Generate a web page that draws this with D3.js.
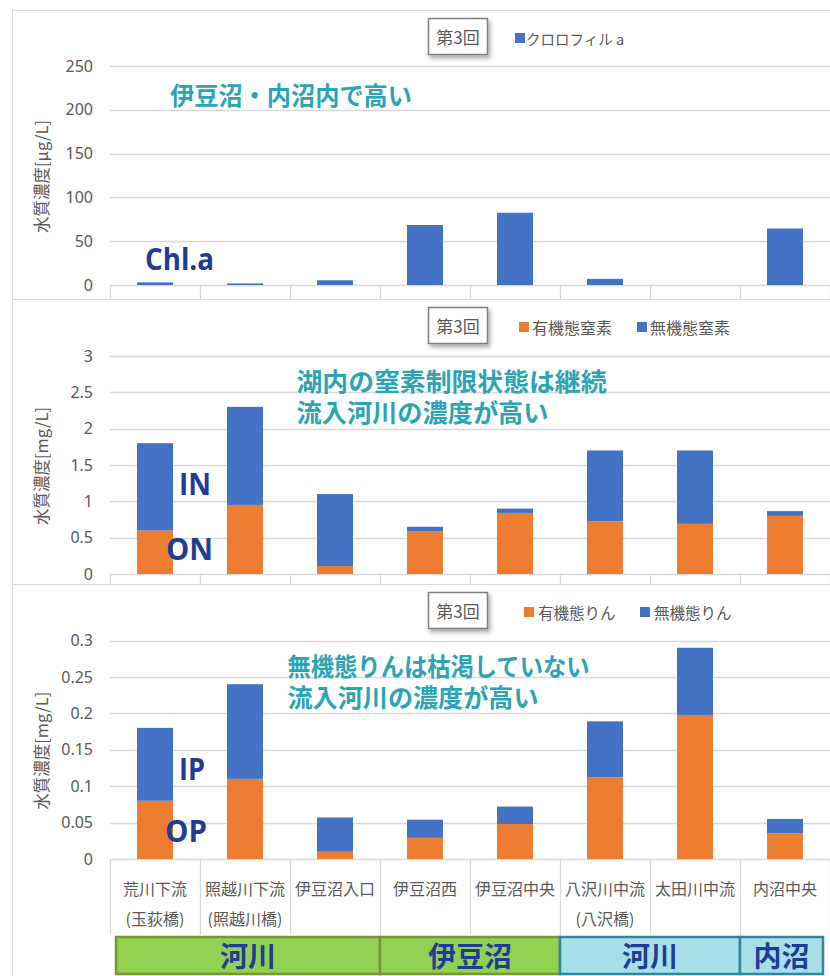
<!DOCTYPE html>
<html><head><meta charset="utf-8">
<script src="https://cdn.jsdelivr.net/npm/d3@7"></script>
<style>body{margin:0;background:#fff}svg{display:block}</style>
</head><body><svg id="c" width="830" height="976"></svg>
<script>
// ---------- data ----------
const catLine1 = ["荒川下流","照越川下流","伊豆沼入口","伊豆沼西","伊豆沼中央","八沢川中流","太田川中流","内沼中央"];
const catLine2 = ["(玉荻橋)","(照越川橋)","","","","(八沢橋)","",""];
const chla   = [3, 1.8, 5.4, 68.5, 82.5, 7, 0, 64.5];
const orgN   = [0.60, 0.95, 0.11, 0.59, 0.84, 0.725, 0.69, 0.80];
const inorgN = [1.20, 1.35, 0.99, 0.06, 0.06, 0.975, 1.01, 0.065];
const orgP   = [0.080, 0.110, 0.010, 0.029, 0.048, 0.112, 0.197, 0.035];
const inorgP = [0.100, 0.130, 0.047, 0.025, 0.024, 0.077, 0.093, 0.020];
const chlaTicks = [0, 50, 100, 150, 200, 250];
const nTicks = [0, 0.5, 1, 1.5, 2, 2.5, 3];
const pTicks = [0, 0.05, 0.1, 0.15, 0.2, 0.25, 0.3];
const groupLabels = ["河川", "伊豆沼", "河川", "内沼"];
const groupFrom = [0, 3, 5, 7];
const groupTo   = [2, 4, 6, 7];
const groupKind = ["g", "g", "b", "b"];

// ---------- styles ----------
const BLUE = "#4472c4", ORANGE = "#ed7d31", GRID = "#d9d9d9", TXT = "#595959";
const NAVY = "#203c96", TEAL = "#2ba4b4";
const JP = "'Noto Sans CJK JP','Noto Sans',sans-serif";
const NUM = "'Noto Sans','Open Sans',sans-serif";

const svg = d3.select("#c");
const defs = svg.append("defs");
const f = defs.append("filter").attr("id","sh").attr("x","-20%").attr("y","-20%").attr("width","150%").attr("height","160%");
f.append("feDropShadow").attr("dx",2).attr("dy",3).attr("stdDeviation",2).attr("flood-color","#000").attr("flood-opacity",0.35);

const x = d3.scaleBand().domain(catLine1).range([110, 830]).paddingInner(0.6).paddingOuter(0.3);
const step = x.step();
const edge = i => x(catLine1[i]) - step * 0.3;   // left boundary of category i

// panel borders
svg.append("rect").attr("x",12.5).attr("y",10.5).attr("width",840).attr("height",1000)
  .attr("fill","none").attr("stroke",GRID);
svg.append("line").attr("x1",12).attr("x2",830).attr("y1",299.5).attr("y2",299.5).attr("stroke",GRID);
svg.append("line").attr("x1",12).attr("x2",830).attr("y1",584.5).attr("y2",584.5).attr("stroke",GRID);

const panels = [
  { top: 10, bottom: 299, y0: 285, y1: 66, max: 250, ticks: chlaTicks, title: "水質濃度[μg/L]",
    keys: ["chla"], data: chla.map((v,i)=>({cat:catLine1[i], chla:v})), colors: {chla: BLUE},
    legend: [{name:"クロロフィル a", key:"chla", sq:515, tx:526, fs:14.5}] },
  { top: 299, bottom: 584, y0: 574, y1: 356, max: 3, ticks: nTicks, title: "水質濃度[mg/L]",
    keys: ["org","inorg"], data: orgN.map((v,i)=>({cat:catLine1[i], org:v, inorg:inorgN[i]})), colors: {org: ORANGE, inorg: BLUE},
    legend: [{name:"有機態窒素", key:"org", sq:519, tx:532, fs:16}, {name:"無機態窒素", key:"inorg", sq:637, tx:650, fs:16}] },
  { top: 584, bottom: 935, y0: 859, y1: 640.5, max: 0.3, ticks: pTicks, title: "水質濃度[mg/L]",
    keys: ["org","inorg"], data: orgP.map((v,i)=>({cat:catLine1[i], org:v, inorg:inorgP[i]})), colors: {org: ORANGE, inorg: BLUE},
    legend: [{name:"有機態りん", key:"org", sq:524, tx:538, fs:15.5}, {name:"無機態りん", key:"inorg", sq:640, tx:654, fs:15.5}] }
];

panels.forEach(p => {
  const y = d3.scaleLinear().domain([0, p.max]).range([p.y0, p.y1]);
  const g = svg.append("g");
  // gridlines
  g.selectAll(".grid").data(p.ticks).join("line")
    .attr("x1", 110).attr("x2", 830)
    .attr("y1", d => Math.round(y(d)) + 0.5).attr("y2", d => Math.round(y(d)) + 0.5)
    .attr("stroke", GRID).attr("stroke-width", 1.3);
  // category dividers
  g.selectAll(".div").data(d3.range(catLine1.length + 1)).join("line")
    .attr("x1", i => Math.round(i < catLine1.length ? edge(i) : 830) + 0.5)
    .attr("x2", i => Math.round(i < catLine1.length ? edge(i) : 830) + 0.5)
    .attr("y1", Math.round(p.y0)).attr("y2", p.bottom)
    .attr("stroke", GRID).attr("stroke-width", 1.3);
  // tick labels
  g.selectAll(".tl").data(p.ticks).join("text")
    .attr("x", 93).attr("y", d => y(d)).attr("dy", "0.35em")
    .attr("text-anchor", "end").attr("font-family", NUM).attr("font-size", 16).attr("fill", TXT)
    .text(d => String(d));
  // axis title
  const cy = (p.y0 + p.y1) / 2 + 1;
  g.append("text").attr("transform", `translate(41,${cy}) rotate(-90)`)
    .attr("text-anchor", "middle").attr("dominant-baseline", "central")
    .attr("font-family", JP).attr("font-size", 16.5).attr("fill", TXT).text(p.title);
  // bars
  const stacked = d3.stack().keys(p.keys)(p.data);
  stacked.forEach(s => {
    g.selectAll(null).data(s).join("rect")
      .attr("x", d => x(d.data.cat)).attr("width", x.bandwidth())
      .attr("y", d => y(d[1])).attr("height", d => Math.max(0, y(d[0]) - y(d[1])))
      .attr("fill", p.colors[s.key]);
  });
  // legend box
  const bt = p.top + 8;
  g.append("rect").attr("x", 428.5).attr("y", bt + 0.5).attr("width", 59).attr("height", 36)
    .attr("fill", "#fff").attr("stroke", "#7f7f7f").attr("stroke-width", 1.5).attr("filter", "url(#sh)");
  g.append("text").attr("x", 458).attr("y", bt + 18.5).attr("text-anchor", "middle").attr("dominant-baseline", "central")
    .attr("font-family", JP).attr("font-size", 17).attr("fill", TXT).text("第3回");
  const ly = p.top + 28;
  p.legend.forEach(l => {
    g.append("rect").attr("x", l.sq).attr("y", ly - 5).attr("width", 10).attr("height", 10).attr("fill", p.colors[l.key]);
    g.append("text").attr("x", l.tx).attr("y", ly).attr("dominant-baseline", "central")
      .attr("font-family", JP).attr("font-size", l.fs).attr("fill", TXT).text(l.name);
  });
});

// category labels
const lab = svg.append("g").attr("font-family", JP).attr("font-size", 16).attr("fill", TXT).attr("text-anchor", "middle");
catLine1.forEach((c, i) => {
  const cx = x(c) + x.bandwidth() / 2;
  lab.append("text").attr("x", cx).attr("y", 888).attr("dominant-baseline", "central").text(c);
  if (catLine2[i]) lab.append("text").attr("x", cx).attr("y", 918).attr("dominant-baseline", "central").text(catLine2[i]);
});

// group bands
groupLabels.forEach((gl, k) => {
  let x0 = edge(groupFrom[k]);
  let x1 = groupTo[k] + 1 < catLine1.length ? edge(groupTo[k] + 1) : 830;
  if (k === 0) x0 += 6;
  if (k === groupLabels.length - 1) x1 -= 7;
  const green = groupKind[k] === "g";
  svg.append("rect").attr("x", x0).attr("y", 937).attr("width", x1 - x0).attr("height", 37)
    .attr("fill", green ? "#92d050" : "#a7dfe9").attr("stroke", green ? "#77933c" : "#31859c").attr("stroke-width", 2.5);
  svg.append("text").attr("x", (x0 + x1) / 2).attr("y", 955).attr("text-anchor", "middle").attr("dominant-baseline", "central")
    .attr("font-family", JP).attr("font-weight", "bold").attr("font-size", 28).attr("fill", NAVY).text(gl);
});

// teal annotations
const notes = [
  {t:"伊豆沼・内沼内で高い", x:170, y:94, w:242},
  {t:"湖内の窒素制限状態は継続", x:296.5, y:380, w:310},
  {t:"流入河川の濃度が高い", x:296.5, y:411, w:252},
  {t:"無機態りんは枯渇していない", x:287.5, y:665, w:302},
  {t:"流入河川の濃度が高い", x:287.5, y:696, w:251}
];
notes.forEach(n => svg.append("text").attr("x", n.x).attr("y", n.y).attr("dominant-baseline", "central")
  .attr("font-family", JP).attr("font-weight", "bold").attr("font-size", 25).attr("fill", TEAL)
  .attr("textLength", n.w).attr("lengthAdjust", "spacingAndGlyphs").text(n.t));

// navy labels
const tags = [
  {t:"Chl.a", x:145, y:270, w:69},
  {t:"IN", x:179, y:495, w:32},
  {t:"ON", x:166, y:560, w:47},
  {t:"IP", x:179, y:780, w:26},
  {t:"OP", x:165, y:842, w:42}
];
tags.forEach(n => svg.append("text").attr("x", n.x).attr("y", n.y)
  .attr("font-family", "'Open Sans','Noto Sans',sans-serif").attr("font-weight", "bold").attr("font-size", 31).attr("fill", NAVY)
  .attr("textLength", n.w).attr("lengthAdjust", "spacingAndGlyphs").text(n.t));
</script>
</body></html>
